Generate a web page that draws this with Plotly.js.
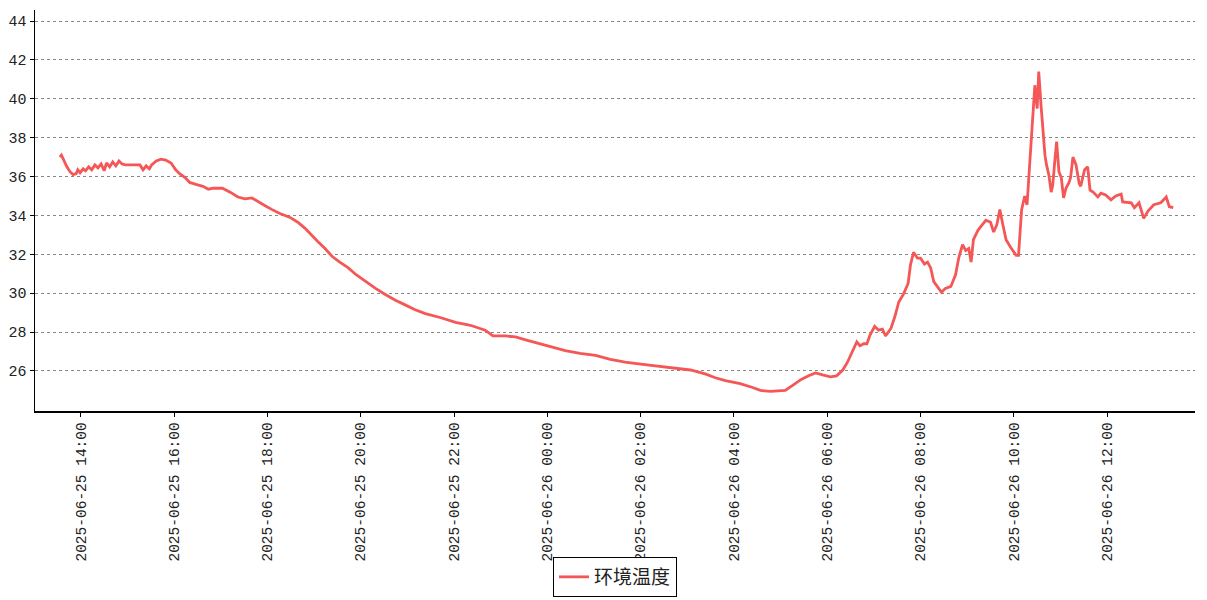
<!DOCTYPE html>
<html>
<head>
<meta charset="utf-8">
<script src="https://cdn.plot.ly/plotly-3.0.1.min.js"></script>
<style>html,body{margin:0;padding:0;background:#fff}#chart{width:1207px;height:600px}</style>
</head>
<body>
<div id="chart"></div>
<script>
const seriesName = "环境温度";
const times = [
"2025-06-25 13:33","2025-06-25 13:35","2025-06-25 13:38","2025-06-25 13:42","2025-06-25 13:46","2025-06-25 13:50","2025-06-25 13:54","2025-06-25 13:56","2025-06-25 13:59","2025-06-25 14:03",
"2025-06-25 14:06","2025-06-25 14:10","2025-06-25 14:14","2025-06-25 14:18","2025-06-25 14:22","2025-06-25 14:26","2025-06-25 14:30","2025-06-25 14:33","2025-06-25 14:37","2025-06-25 14:41",
"2025-06-25 14:45","2025-06-25 14:49","2025-06-25 14:53","2025-06-25 14:57","2025-06-25 15:10","2025-06-25 15:16","2025-06-25 15:20","2025-06-25 15:24","2025-06-25 15:28","2025-06-25 15:31",
"2025-06-25 15:37","2025-06-25 15:43","2025-06-25 15:49","2025-06-25 15:56","2025-06-25 16:02","2025-06-25 16:07","2025-06-25 16:14","2025-06-25 16:20","2025-06-25 16:28","2025-06-25 16:37",
"2025-06-25 16:44","2025-06-25 16:50","2025-06-25 17:02","2025-06-25 17:12","2025-06-25 17:22","2025-06-25 17:31","2025-06-25 17:40","2025-06-25 17:48","2025-06-25 17:57","2025-06-25 18:06",
"2025-06-25 18:16","2025-06-25 18:29","2025-06-25 18:39","2025-06-25 18:48","2025-06-25 18:57","2025-06-25 19:05","2025-06-25 19:14","2025-06-25 19:23","2025-06-25 19:33","2025-06-25 19:44",
"2025-06-25 19:54","2025-06-25 20:06","2025-06-25 20:19","2025-06-25 20:31","2025-06-25 20:44","2025-06-25 20:57","2025-06-25 21:10","2025-06-25 21:23","2025-06-25 21:42","2025-06-25 22:02",
"2025-06-25 22:21","2025-06-25 22:40","2025-06-25 22:50","2025-06-25 23:06","2025-06-25 23:19","2025-06-25 23:32","2025-06-25 23:45","2025-06-26 00:04","2025-06-26 00:23","2025-06-26 00:42",
"2025-06-26 01:02","2025-06-26 01:21","2025-06-26 01:40","2025-06-26 02:00","2025-06-26 02:19","2025-06-26 02:38","2025-06-26 03:04","2025-06-26 03:23","2025-06-26 03:36","2025-06-26 03:49",
"2025-06-26 04:08","2025-06-26 04:24","2025-06-26 04:34","2025-06-26 04:47","2025-06-26 05:06","2025-06-26 05:15","2025-06-26 05:26","2025-06-26 05:36","2025-06-26 05:45","2025-06-26 05:54",
"2025-06-26 06:04","2025-06-26 06:12","2025-06-26 06:20","2025-06-26 06:26","2025-06-26 06:33","2025-06-26 06:38","2025-06-26 06:42","2025-06-26 06:47","2025-06-26 06:51","2025-06-26 06:55",
"2025-06-26 07:01","2025-06-26 07:06","2025-06-26 07:11","2025-06-26 07:15","2025-06-26 07:22","2025-06-26 07:27","2025-06-26 07:32","2025-06-26 07:38","2025-06-26 07:44","2025-06-26 07:47",
"2025-06-26 07:51","2025-06-26 07:56","2025-06-26 08:00","2025-06-26 08:05","2025-06-26 08:09","2025-06-26 08:13","2025-06-26 08:17","2025-06-26 08:22","2025-06-26 08:27","2025-06-26 08:32",
"2025-06-26 08:39","2025-06-26 08:45","2025-06-26 08:49","2025-06-26 08:54","2025-06-26 08:58","2025-06-26 09:02","2025-06-26 09:05","2025-06-26 09:08","2025-06-26 09:14","2025-06-26 09:19",
"2025-06-26 09:24","2025-06-26 09:30","2025-06-26 09:34","2025-06-26 09:38","2025-06-26 09:42","2025-06-26 09:46","2025-06-26 09:50","2025-06-26 09:56","2025-06-26 10:03","2025-06-26 10:06",
"2025-06-26 10:10","2025-06-26 10:14","2025-06-26 10:17","2025-06-26 10:19","2025-06-26 10:22","2025-06-26 10:24","2025-06-26 10:27","2025-06-26 10:30","2025-06-26 10:32","2025-06-26 10:35",
"2025-06-26 10:37","2025-06-26 10:40","2025-06-26 10:42","2025-06-26 10:45","2025-06-26 10:48","2025-06-26 10:50","2025-06-26 10:53","2025-06-26 10:55","2025-06-26 10:58","2025-06-26 11:01",
"2025-06-26 11:04","2025-06-26 11:07","2025-06-26 11:11","2025-06-26 11:13","2025-06-26 11:16","2025-06-26 11:20","2025-06-26 11:24","2025-06-26 11:26","2025-06-26 11:31","2025-06-26 11:35",
"2025-06-26 11:38","2025-06-26 11:42","2025-06-26 11:48","2025-06-26 11:52","2025-06-26 11:58","2025-06-26 12:05","2025-06-26 12:11","2025-06-26 12:18","2025-06-26 12:20","2025-06-26 12:31",
"2025-06-26 12:35","2025-06-26 12:41","2025-06-26 12:47","2025-06-26 12:53","2025-06-26 13:00","2025-06-26 13:09","2025-06-26 13:16","2025-06-26 13:20","2025-06-26 13:25"
];
const temps = [
37.0,37.1,36.85,36.5,36.25,36.1,36.15,36.35,36.2,36.4,
36.3,36.5,36.35,36.6,36.45,36.65,36.3,36.7,36.5,36.75,
36.55,36.8,36.65,36.6,36.6,36.6,36.35,36.55,36.4,36.6,
36.8,36.9,36.85,36.7,36.35,36.15,35.95,35.7,35.6,35.5,
35.35,35.4,35.4,35.2,34.95,34.85,34.9,34.7,34.5,34.3,
34.1,33.9,33.65,33.35,32.95,32.65,32.3,31.9,31.6,31.3,
30.95,30.6,30.25,29.95,29.65,29.4,29.15,28.95,28.75,28.5,
28.35,28.1,27.8,27.8,27.75,27.6,27.45,27.25,27.05,26.9,
26.8,26.6,26.45,26.35,26.25,26.15,26.05,25.85,25.65,25.5,
25.35,25.15,25.0,24.95,25.0,25.25,25.55,25.75,25.9,25.8,
25.7,25.75,26.05,26.45,27.1,27.5,27.3,27.4,27.4,27.85,
28.3,28.1,28.15,27.8,28.2,28.8,29.55,29.95,30.5,31.45,
32.1,31.8,31.8,31.5,31.6,31.3,30.6,30.3,30.05,30.25,
30.35,30.95,31.8,32.5,32.2,32.3,31.6,32.75,33.25,33.5,
33.75,33.65,33.15,33.5,34.3,33.5,32.75,32.35,31.95,31.95,
34.3,35.0,34.55,35.8,37.8,38.9,40.7,39.5,41.4,39.65,
38.4,37.1,36.6,36.1,35.2,35.55,36.95,37.8,36.25,35.95,
34.9,35.4,35.7,35.95,37.0,36.6,35.65,35.5,36.35,36.5,
35.3,35.2,34.95,35.15,35.05,34.8,35.0,35.1,34.7,34.65,
34.4,34.65,33.85,34.25,34.55,34.65,34.95,34.45,34.4
];
const yTicks = [26,28,30,32,34,36,38,40,42,44];

const monoFont = "Liberation Mono, DejaVu Sans Mono, monospace";

const trace = {
  x: times, y: temps, type: "scatter", mode: "lines", name: seriesName,
  line: {color: "#f55656", width: 2.8}
};

const layout = {
  width: 1207, height: 600,
  margin: {l: 35, r: 12, t: 10, b: 189, autoexpand: false},
  paper_bgcolor: "#fff", plot_bgcolor: "#fff",
  showlegend: true,
  legend: {
    orientation: "h", x: 0.5, xanchor: "center",
    yref: "container", y: 0.005, yanchor: "bottom",
    bordercolor: "#000", borderwidth: 1, bgcolor: "#fff",
    font: {family: "Noto Sans CJK SC", size: 19, color: "#222"},
    itemwidth: 30
  },
  xaxis: {
    type: "date", automargin: false,
    range: ["2025-06-25 13:01", "2025-06-26 13:53"],
    tick0: "2025-06-25 14:00", dtick: 7200000, tickmode: "linear",
    tickformat: "%Y-%m-%d %H:%M", tickangle: -90,
    tickfont: {family: monoFont, size: 14.5, color: "#222"},
    showgrid: false, zeroline: false,
    showline: true, linecolor: "#000", linewidth: 1.5,
    ticks: "outside", ticklen: 4, tickcolor: "#000"
  },
  yaxis: {
    automargin: false,
    range: [23.94, 44.57],
    tickmode: "array", tickvals: yTicks, ticktext: yTicks.map(String),
    tickfont: {family: monoFont, size: 15, color: "#222"},
    showgrid: true, gridcolor: "#888", griddash: "dot", gridwidth: 1,
    zeroline: false,
    showline: true, linecolor: "#000", linewidth: 1.5,
    ticks: "outside", ticklen: 4, tickcolor: "#000"
  }
};

Plotly.newPlot("chart", [trace], layout, {displayModeBar: false, staticPlot: true});
</script>
</body>
</html>
